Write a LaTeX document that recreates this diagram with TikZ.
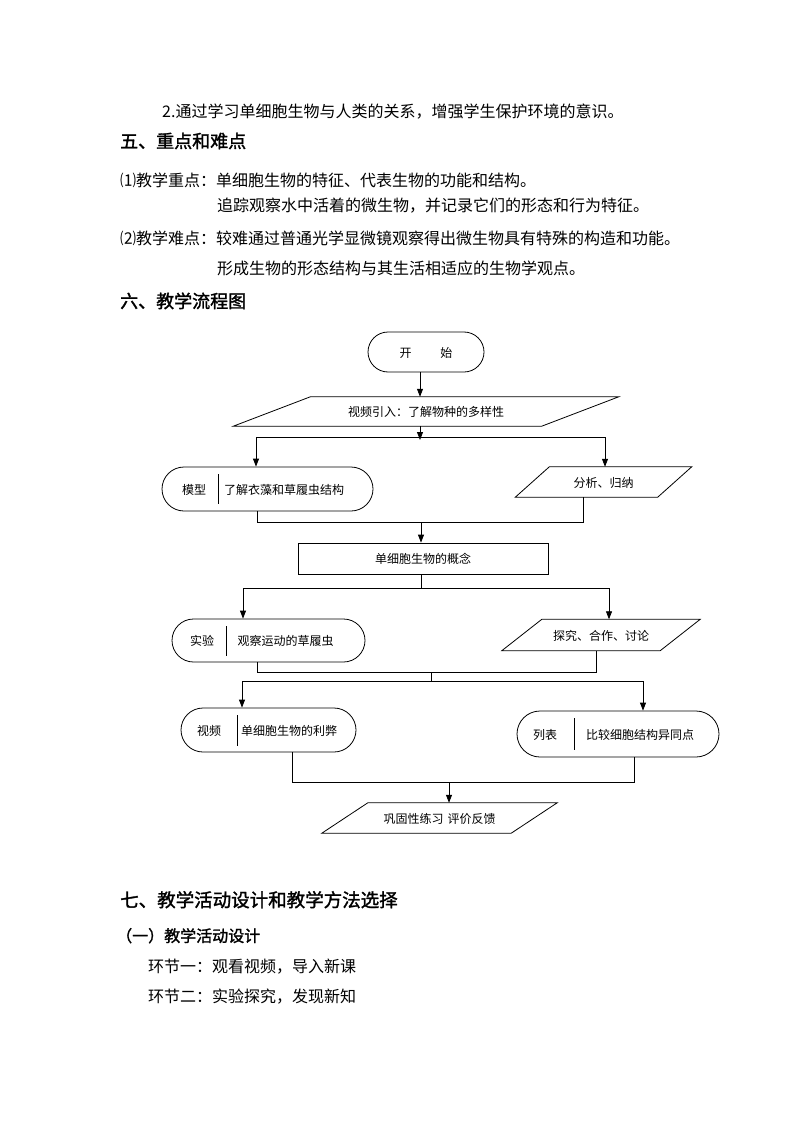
\documentclass[tikz,border=0pt]{standalone}
\usepackage{fontspec}
\setmainfont{Noto Sans CJK SC}
\newfontfamily\cjkbold[FakeBold=1.6]{Noto Sans CJK SC}
\usetikzlibrary{arrows.meta}
\tikzset{
  body/.style={font=\fontsize{16}{16}\selectfont, anchor=west, inner sep=0, text height=.88em, text depth=.12em, yshift=-3pt},
  head/.style={font=\cjkbold\fontsize{18}{18}\selectfont, anchor=west, inner sep=0, text height=.88em, text depth=.12em, yshift=-3pt},
  ftext/.style={font=\fontsize{12}{12}\selectfont, inner sep=0, text height=1em, text depth=0em},
  ln/.style={line width=0.8pt},
  arr/.style={ln, -{Triangle[length=8pt,width=6pt]}},
  term/.style={draw, ln, inner sep=0},
  boxr/.style={draw, ln, inner sep=0, font=\fontsize{12}{12}\selectfont, text height=1em, text depth=0em},
}
\newcommand\mkpara[7]{%
  \node[ftext, minimum width=#4pt, minimum height=#5pt] (#1) at (#2,#3) {#7};
  \draw[ln] ([xshift=#6pt]#1.north west) -- ([xshift=#6pt]#1.north east)
     -- ([xshift=-#6pt]#1.south east) -- ([xshift=-#6pt]#1.south west) -- cycle;
}
\begin{document}
\begin{tikzpicture}[x=1pt,y=-1pt]
\useasboundingbox (0,0) rectangle (794,1123);

% ---- text above ----
\node[body] (t1) at (162,111) {2.通过学习单细胞生物与人类的关系，增强学生保护环境的意识。};
\node[head] (h5) at (120,141) {五、重点和难点};
\node[body] (t2) at (120,180) {⑴教学重点：单细胞生物的特征、代表生物的功能和结构。};
\node[body] (t3) at (217,205) {追踪观察水中活着的微生物，并记录它们的形态和行为特征。};
\node[body] (t4) at (120,238) {⑵教学难点：较难通过普通光学显微镜观察得出微生物具有特殊的构造和功能。};
\node[body] (t5) at (217,268) {形成生物的形态结构与其生活相适应的生物学观点。};
\node[head] (h6) at (120,301) {六、教学流程图};

% ---- flowchart ----
\node[term, rounded corners=20pt, minimum width=116pt, minimum height=40pt,
      font=\fontsize{12}{12}\selectfont, text height=1em, text depth=0em] (start) at (426,352) {开\hspace{29pt}始};
\mkpara{p1}{426}{411.5}{308}{29}{38.5}{视频引入：了解物种的多样性}

\node[term, rounded corners=22pt, minimum width=211pt, minimum height=44pt] (m1) at (267.5,489) {};
\node[ftext] (m1a) at (194,489) {模型};
\node[ftext] (m1b) at (284,489) {了解衣藻和草履虫结构};
\draw[ln] (218,474) -- (218,504);

\mkpara{p2}{603.5}{482}{142}{30}{17}{分析、归纳}

\node[boxr, minimum width=250pt, minimum height=31pt] (r1) at (423,558.5) {单细胞生物的概念};

\node[term, rounded corners=21.5pt, minimum width=193pt, minimum height=43pt] (e1) at (268.5,640.5) {};
\node[ftext] (e1a) at (202,640.5) {实验};
\node[ftext] (e1b) at (285.5,640.5) {观察运动的草履虫};
\draw[ln] (226,626) -- (226,656);

\mkpara{p3}{601}{635}{158}{31}{20}{探究、合作、讨论}

\node[term, rounded corners=22pt, minimum width=175pt, minimum height=44pt] (v1) at (268.5,730) {};
\node[ftext] (v1a) at (209,730) {视频};
\node[ftext] (v1b) at (289,730) {单细胞生物的利弊};
\draw[ln] (237,715) -- (237,746);

\node[term, rounded corners=23pt, minimum width=202pt, minimum height=46pt] (l1) at (618,734) {};
\node[ftext] (l1a) at (545,734) {列表};
\node[ftext] (l1b) at (640,734) {比较细胞结构异同点};
\draw[ln] (574,718) -- (574,750);

\mkpara{p4}{439.5}{818}{189}{30}{23}{巩固性练习\hspace{4pt}评价反馈}

% ---- connectors ----
\coordinate (xa) at (420,0);
\draw[arr] (start.south -| xa) -- (p1.north -| xa);
\coordinate (j1) at (420,440);
\draw[arr] (p1.south -| xa) -- (j1);
\coordinate (j1l) at (256,437);
\coordinate (j1r) at (605,437);
\draw[ln] (j1l) -- (j1r);
\draw[arr] (j1l) -- (j1l |- m1.north);
\draw[arr] (j1r) -- (j1r |- p2.north);

\coordinate (k1) at (257,522);
\coordinate (k2) at (583,522);
\draw[ln] (k1 |- m1.south) -- (k1) -- (k2) -- (k2 |- p2.south);
\coordinate (j2) at (421,522);
\draw[arr] (j2) -- (j2 |- r1.north);

\coordinate (j3) at (421,588);
\draw[ln] (r1.south -| j3) -- (j3);
\coordinate (j3l) at (243,588);
\coordinate (j3r) at (609,588);
\draw[ln] (j3l) -- (j3r);
\draw[arr] (j3l) -- (j3l |- e1.north);
\draw[arr] (j3r) -- (j3r |- p3.north);

\coordinate (k3) at (257,672);
\coordinate (k4) at (596,672);
\draw[ln] (k3 |- e1.south) -- (k3) -- (k4) -- (k4 |- p3.south);
\coordinate (j4) at (431,672);
\coordinate (j4b) at (431,681);
\draw[ln] (j4) -- (j4b);
\coordinate (j5l) at (242,681);
\coordinate (j5r) at (643,681);
\draw[ln] (j5l) -- (j5r);
\draw[arr] (j5l) -- (j5l |- v1.north);
\draw[arr] (j5r) -- (j5r |- l1.north);

\coordinate (k5) at (292,782);
\coordinate (k6) at (634,782);
\draw[ln] (k5 |- v1.south) -- (k5) -- (k6) -- (k6 |- l1.south);
\coordinate (j6) at (449,782);
\draw[arr] (j6) -- (j6 |- p4.north);

% ---- text below ----
\node[head, font=\cjkbold\fontsize{18.5}{18.5}\selectfont] (h7) at (120,900) {七、教学活动设计和教学方法选择};
\node[head, font=\cjkbold\fontsize{16}{16}\selectfont] (h8) at (116,935) {（一）教学活动设计};
\node[body] (t6) at (148,966) {环节一：观看视频，导入新课};
\node[body] (t7) at (148,996) {环节二：实验探究，发现新知};
\end{tikzpicture}
\end{document}
